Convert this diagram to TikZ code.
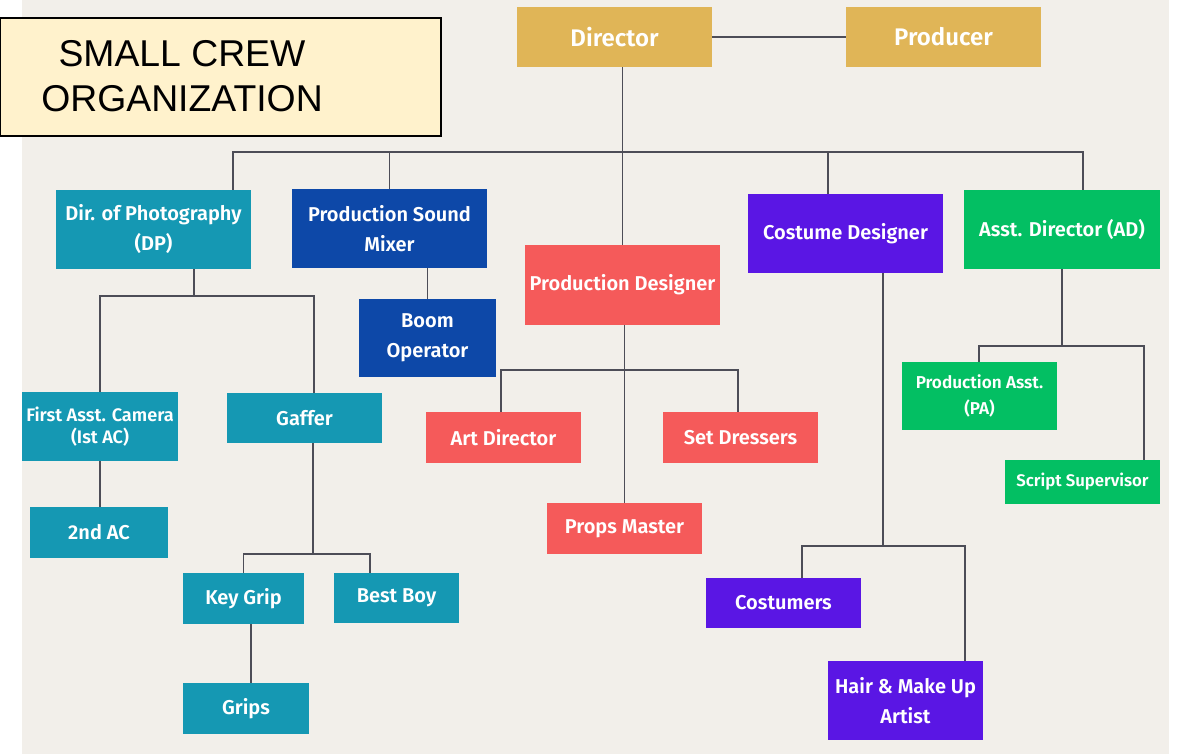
\documentclass[tikz,border=0pt]{standalone}
\usepackage{fontspec}
\setmainfont{Fira Sans}
\newfontfamily\boxfont{Fira Sans SemiBold}
\newfontfamily\titlefont{Liberation Sans}
\definecolor{bgc}{HTML}{F2EFEA}
\definecolor{titlefill}{HTML}{FFF2CC}
\definecolor{gold}{HTML}{E0B557}
\definecolor{teal}{HTML}{1598B3}
\definecolor{navy}{HTML}{0D48A8}
\definecolor{coral}{HTML}{F55A5A}
\definecolor{purp}{HTML}{5A16E4}
\definecolor{grn}{HTML}{03BF63}
\definecolor{linec}{HTML}{4D4D57}
\begin{document}
\begin{tikzpicture}[x=0.75pt,y=-0.75pt,
  bx/.style={rectangle, inner sep=0pt, align=center, text=white,
    font=\boxfont\fontsize{15}{22.5}\selectfont},
  sz/.style 2 args={minimum width={#1*0.75pt}, minimum height={#2*0.75pt}},
  big/.style={font=\boxfont\fontsize{18}{20}\selectfont},
  small/.style={font=\boxfont\fontsize{12.9}{16.5}\selectfont},
  ln/.style={draw=linec, line width=1pt}]
\useasboundingbox (0,0) rectangle (1182,754);
\fill[bgc] (22,0) rectangle (1169,754);
\node[draw=black, line width=0.9pt, fill=titlefill, sz={441}{118}, inner sep=0pt] (title) at (220.5,77) {};
\node[align=center, inner sep=0pt, font=\titlefont\fontsize{28}{34}\selectfont] (titletext) at (182,76.4) {SMALL CREW\\ORGANIZATION};
% top level
\node[bx, big, fill=gold, sz={195}{60}] (director) at (614.5,37) {Director};
\node[bx, big, fill=gold, sz={195}{60}] (producer) at (943.5,37) {Producer};
% second level
\node[bx, fill=teal, sz={195}{79}] (dp) at (153.5,229.5) {Dir. of Photography\\(DP)};
\node[bx, fill=navy, sz={195}{79}] (psm) at (389.5,228.5) {Production Sound\\Mixer};
\node[bx, fill=coral, sz={195}{80}] (pd) at (622.5,285) {Production Designer};
\node[bx, fill=purp, sz={195}{79}] (cd) at (845.5,233.5) {Costume Designer};
\node[bx, fill=grn, sz={196}{79}] (ad) at (1062,229.5) {Asst. Director (AD)};
% camera dept
\node[bx, fill=navy, sz={137}{78}] (boom) at (427.5,338) {Boom\\Operator};
\node[bx, small, font=\boxfont\fontsize{13.6}{16.5}\selectfont, fill=teal, sz={156}{69}] (fac) at (100,426.5) {First Asst. Camera\\(Ist AC)};
\node[bx, fill=teal, sz={155}{50}] (gaffer) at (304.5,418) {Gaffer};
\node[bx, fill=teal, sz={138}{51}] (ac2) at (99,532.5) {2nd AC};
\node[bx, fill=teal, sz={121}{51}] (kg) at (243.5,598.5) {Key Grip};
\node[bx, fill=teal, sz={125}{50}] (bb) at (396.5,598) {Best Boy};
\node[bx, fill=teal, sz={126}{51}] (grips) at (246,708.5) {Grips};
% art dept
\node[bx, fill=coral, sz={155}{51}] (art) at (503.5,437.5) {Art Director};
\node[bx, fill=coral, sz={155}{51}] (sd) at (740.5,437.5) {Set Dressers};
\node[bx, fill=coral, sz={155}{51}] (pm) at (624.5,528.5) {Props Master};
% costume
\node[bx, fill=purp, sz={155}{50}] (cos) at (783.5,603) {Costumers};
\node[bx, fill=purp, sz={155}{79}] (hair) at (905.5,700.5) {Hair \& Make Up\\Artist};
% AD
\node[bx, small, font=\boxfont\fontsize{12.9}{19.5}\selectfont, fill=grn, sz={155}{68}] (pa) at (979.5,396) {Production Asst.\\(PA)};
\node[bx, small, font=\boxfont\fontsize{12.6}{16}\selectfont, fill=grn, sz={155}{44}] (ss) at (1082.5,482) {Script Supervisor};
% coordinates
\coordinate (busL) at (233,152);
\coordinate (busR) at (1083,152);
\coordinate (bcd) at (828,152);
\coordinate (dpb) at (194,296);
\coordinate (gafT) at (314,296);
\coordinate (gb) at (313,554);
\coordinate (gbR) at (370,554);
\coordinate (kgx) at (251,624);
\coordinate (pdL) at (501,370);
\coordinate (pdR) at (738,370);
\coordinate (cdb) at (883,546);
\coordinate (cdL) at (802,546);
\coordinate (cdR) at (965,546);
\coordinate (adb) at (1062,346);
\coordinate (adL) at (979,346);
\coordinate (adR) at (1144,346);
% connectors
\draw[ln] (director) -- (producer);
\draw[ln] (pd.north |- director.south) -- (pd.north);
\draw[ln] (busL |- dp.north) -- (busL) -- (busR) -- (busR |- ad.north);
\draw[ln] (psm.north |- busL) -- (psm.north);
\draw[ln] (bcd) -- (bcd |- cd.north);
\draw[ln] (boom.north |- psm.south) -- (boom.north);
\draw[ln] (dpb |- dp.south) -- (dpb);
\draw[ln] (fac.north) |- (gafT) -- (gafT |- gaffer.north);
\draw[ln] (fac.south) -- (fac.south |- ac2.north);
\draw[ln] (gb |- gaffer.south) -- (gb);
\draw[ln] (kg.north) |- (gbR) -- (gbR |- bb.north);
\draw[ln] (kgx) -- (kgx |- grips.north);
\draw[ln] (pm.north |- pd.south) -- (pm.north);
\draw[ln] (pdL |- art.north) -- (pdL) -- (pdR) -- (pdR |- sd.north);
\draw[ln] (cdb |- cd.south) -- (cdb);
\draw[ln] (cdL |- cos.north) -- (cdL) -- (cdR) -- (cdR |- hair.north);
\draw[ln] (adb |- ad.south) -- (adb);
\draw[ln] (adL |- pa.north) -- (adL) -- (adR) -- (adR |- ss.north);
\end{tikzpicture}
\end{document}
